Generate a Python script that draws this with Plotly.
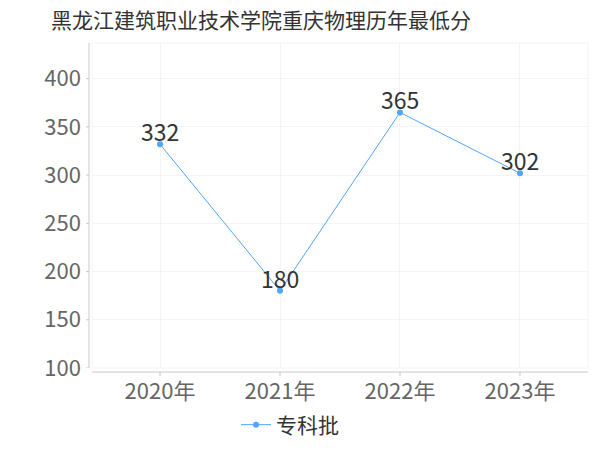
import plotly.graph_objects as go

years = ["2020年", "2021年", "2022年", "2023年"]
scores = [332, 180, 365, 302]
series_name = "专科批"
title = "黑龙江建筑职业技术学院重庆物理历年最低分"
y_ticks = [100, 150, 200, 250, 300, 350, 400]

cjk = "Noto Sans CJK SC"
color = "#4da6ff"
axis_color = "#c8c8c8"

L, R, T, B = 92, 12, 43, 82
W = 600 - L - R
H = 450 - T - B

fig = go.Figure()
fig.add_trace(go.Scatter(
    x=years, y=scores, mode="lines+markers", name=series_name,
    line=dict(color=color, width=1),
    marker=dict(color=color, size=6),
))

# value labels from the data
for yr, v in zip(years, scores):
    fig.add_annotation(x=yr, y=v, text=str(v), showarrow=False,
                       yanchor="middle", yshift=13,
                       font=dict(size=23, color="#333333", family=cjk))

fig.update_layout(
    width=600, height=450,
    margin=dict(l=L, r=R, t=T, b=B, autoexpand=False),
    paper_bgcolor="white", plot_bgcolor="white",
    font=dict(family=cjk),
    title=dict(text=title, x=261 / 600, xanchor="center", xref="container",
               y=1 - 21 / 450, yanchor="middle",
               font=dict(size=21, color="#333333", family=cjk)),
    showlegend=True,
    legend=dict(orientation="h", x=(290 - L) / W, xanchor="center",
                y=-(425 - (450 - B)) / H, yanchor="middle",
                font=dict(size=21, color="#333333", family=cjk)),
    xaxis=dict(type="category", range=[-0.567, 3.567], showgrid=True,
               gridcolor="#f4f4f4", showline=False, automargin=False,
               ticks="", ticklabelstandoff=8,
               tickfont=dict(size=22, color="#666666", family=cjk), zeroline=False),
    yaxis=dict(range=[100, 437], tickvals=y_ticks, showgrid=True,
               gridcolor="#f4f4f4", showline=False, automargin=False,
               ticks="", tickfont=dict(size=22, color="#666666", family=cjk),
               zeroline=False, ticklabelstandoff=10),
)

# faint plot border
fig.add_shape(type="rect", xref="paper", yref="paper", x0=0, x1=1, y0=0, y1=1,
              line=dict(color="#f4f4f4", width=1), layer="below")

# offset y-axis line with ticks
yoff = -3 / W
fig.add_shape(type="line", xref="paper", yref="paper", x0=yoff, x1=yoff, y0=0, y1=1,
              line=dict(color=axis_color, width=1))
for t in y_ticks:
    fig.add_shape(type="line", xref="paper", yref="y", x0=yoff - 3 / W, x1=yoff, y0=t, y1=t,
                  line=dict(color=axis_color, width=1))

# offset x-axis line with ticks
xoff = -4 / H
fig.add_shape(type="line", xref="paper", yref="paper", x0=0, x1=1, y0=xoff, y1=xoff,
              line=dict(color=axis_color, width=1))
for c in years:
    fig.add_shape(type="line", xref="x", yref="paper", x0=c, x1=c, y0=xoff, y1=xoff - 4 / H,
                  line=dict(color=axis_color, width=1))

fig.write_html("out.html", config={"displayModeBar": False},
               post_script="document.body.style.margin='0';")
